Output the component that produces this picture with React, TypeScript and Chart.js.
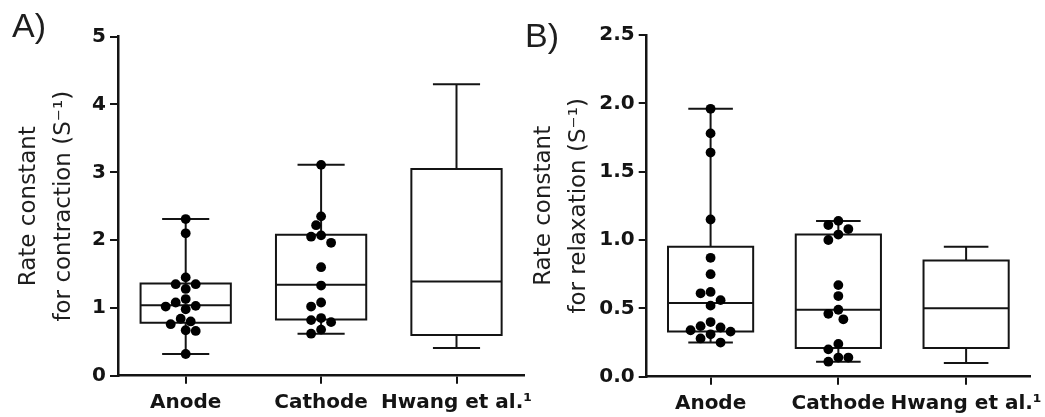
import React, { useEffect, useRef } from 'react';
import { Chart, registerables } from 'chart.js';

Chart.register(...registerables);

const categories = ['Anode', 'Cathode', 'Hwang et al.¹'];

// Panel A – rate constant for contraction
const contractionMin = [0.32, 0.62, 0.41];
const contractionQ1 = [0.78, 0.83, 0.6];
const contractionMedian = [1.04, 1.34, 1.39];
const contractionQ3 = [1.36, 2.08, 3.05];
const contractionMax = [2.31, 3.11, 4.3];
const contractionAnode = [2.31, 2.1, 1.45, 1.35, 1.35, 1.28, 1.13, 1.08, 1.03, 1.02, 0.98, 0.84, 0.8, 0.76, 0.67, 0.66, 0.32];
const contractionCathode = [3.11, 2.35, 2.22, 2.07, 2.05, 1.96, 1.6, 1.33, 1.08, 1.02, 0.85, 0.82, 0.79, 0.68, 0.62];
const contractionTicks = [0, 1, 2, 3, 4, 5];

// Panel B – rate constant for relaxation
const relaxationMin = [0.25, 0.11, 0.1];
const relaxationQ1 = [0.33, 0.21, 0.21];
const relaxationMedian = [0.54, 0.49, 0.5];
const relaxationQ3 = [0.95, 1.04, 0.85];
const relaxationMax = [1.96, 1.14, 0.95];
const relaxationAnode = [1.96, 1.78, 1.64, 1.15, 0.87, 0.75, 0.62, 0.61, 0.56, 0.52, 0.4, 0.37, 0.36, 0.34, 0.33, 0.31, 0.28, 0.25];
const relaxationCathode = [1.14, 1.11, 1.08, 1.04, 1.0, 0.67, 0.59, 0.49, 0.46, 0.42, 0.24, 0.2, 0.14, 0.14, 0.11];
const relaxationTicks = [0, 0.5, 1, 1.5, 2, 2.5];

const H = 417;
const INK = '#141414';
const BOX_HALF = 1 / 3; // half box width in category units

type Pt = { x: number; y: number | null };

function boxLines(mins: number[], q1: number[], med: number[], q3: number[], maxs: number[]): Pt[] {
  const pts: Pt[] = [];
  mins.forEach((_, i) => {
    const l = i - BOX_HALF, r = i + BOX_HALF;
    const cl = i - BOX_HALF / 2, cr = i + BOX_HALF / 2;
    pts.push({ x: l, y: q1[i] }, { x: r, y: q1[i] }, { x: r, y: q3[i] }, { x: l, y: q3[i] }, { x: l, y: q1[i] }, { x: l, y: null });
    pts.push({ x: l, y: med[i] }, { x: r, y: med[i] }, { x: r, y: null });
    pts.push({ x: i, y: q3[i] }, { x: i, y: maxs[i] }, { x: i, y: null });
    pts.push({ x: cl, y: maxs[i] }, { x: cr, y: maxs[i] }, { x: cr, y: null });
    pts.push({ x: i, y: q1[i] }, { x: i, y: mins[i] }, { x: i, y: null });
    pts.push({ x: cl, y: mins[i] }, { x: cr, y: mins[i] }, { x: cr, y: null });
  });
  return pts;
}

// Beeswarm placement computed from the chart's own scales
function swarm(chart: any, groups: number[][], diam: number) {
  const xs = chart.scales.x, ys = chart.scales.y;
  const pxPerX = xs.getPixelForValue(1) - xs.getPixelForValue(0);
  const out: { x: number; y: number }[] = [];
  groups.forEach((values, ci) => {
    const placed: { x: number; y: number }[] = [];
    const sorted = values.slice().sort((a, b) => b - a);
    sorted.forEach((v) => {
      const py = ys.getPixelForValue(v);
      let off = 0;
      for (let step = 0; step < 60; step++) {
        const mag = Math.ceil(step / 2) * diam / 2;
        const cand = step === 0 ? 0 : (step % 2 === 1 ? -mag : mag);
        if (placed.every((q) => Math.hypot(q.x - cand, q.y - py) >= diam)) { off = cand; break; }
      }
      placed.push({ x: off, y: py });
      out.push({ x: ci + off / pxPerX, y: v });
    });
  });
  return out;
}

type PanelCfg = {
  left: number; width: number;
  areaLeft: number; areaRight: number; areaTop: number; areaBottom: number;
  title: string[]; titlePad: number;
  mins: number[]; q1: number[]; med: number[]; q3: number[]; maxs: number[];
  groups: number[][];
  ticks: number[]; decimals: number;
};

function BoxPanel({ cfg }: { cfg: PanelCfg }) {
  const ref = useRef<HTMLCanvasElement>(null);
  useEffect(() => {
    const canvas = ref.current!;
    const tickFont = { family: 'DejaVu Sans', weight: 'bold' as const, size: 20 };
    const initial = cfg.groups.flatMap((vals, ci) => vals.map((v) => ({ x: ci, y: v })));
    const chart = new Chart(canvas, {
      type: 'scatter',
      data: {
        datasets: [
          {
            type: 'scatter',
            data: initial,
            pointRadius: 4.9,
            pointBackgroundColor: '#000',
            pointBorderWidth: 0,
            order: 0,
          } as any,
          {
            type: 'line',
            data: boxLines(cfg.mins, cfg.q1, cfg.med, cfg.q3, cfg.maxs),
            showLine: true,
            borderColor: INK,
            borderWidth: 2,
            pointRadius: 0,
            spanGaps: false,
            fill: false,
            tension: 0,
            borderJoinStyle: 'miter',
            borderCapStyle: 'square',
            order: 1,
          } as any,
        ],
      },
      options: {
        animation: false,
        responsive: false,
        devicePixelRatio: 1,
        events: [],
        layout: { padding: { top: cfg.areaTop, right: cfg.width - cfg.areaRight, bottom: 0, left: 0 } },
        plugins: { legend: { display: false }, tooltip: { enabled: false } },
        scales: {
          x: {
            type: 'linear',
            min: -0.5,
            max: categories.length - 0.5,
            afterBuildTicks: (s: any) => { s.ticks = categories.map((_, i) => ({ value: i })); },
            afterFit: (s: any) => { s.height = H - cfg.areaBottom; s.paddingLeft = 0; s.paddingRight = 0; },
            ticks: {
              callback: (v: any) => categories[Math.round(Number(v))],
              autoSkip: false, maxRotation: 0, minRotation: 0, padding: 7,
              font: tickFont, color: INK,
            },
            grid: { drawOnChartArea: false, drawTicks: true, tickLength: 8, lineWidth: 2, color: INK },
            border: { display: true, width: 2.5, color: INK },
          },
          y: {
            type: 'linear',
            min: cfg.ticks[0],
            max: cfg.ticks[cfg.ticks.length - 1],
            afterBuildTicks: (s: any) => { s.ticks = cfg.ticks.map((v) => ({ value: v })); },
            afterFit: (s: any) => { s.width = cfg.areaLeft; s.paddingTop = 0; s.paddingBottom = 0; },
            ticks: {
              callback: (v: any) => Number(v).toFixed(cfg.decimals),
              padding: 4, font: tickFont, color: INK,
            },
            grid: { drawOnChartArea: false, drawTicks: true, tickLength: 8, lineWidth: 2, color: INK },
            border: { display: true, width: 2.5, color: INK },
            title: {
              display: true,
              text: cfg.title,
              font: { family: 'DejaVu Sans', size: 23, lineHeight: 1.5 },
              padding: { top: cfg.titlePad, bottom: 0 },
              color: '#1e1e1e',
            },
          },
        },
      } as any,
    });
    chart.data.datasets[0].data = swarm(chart, cfg.groups, 10) as any;
    chart.update();
    return () => chart.destroy();
  }, []);
  return (
    <canvas
      ref={ref}
      width={cfg.width}
      height={H}
      style={{ position: 'absolute', left: cfg.left, top: 0, width: cfg.width, height: H }}
    />
  );
}

const panelA: PanelCfg = {
  left: 0, width: 545,
  areaLeft: 118, areaRight: 524.2, areaTop: 36.7, areaBottom: 375.7,
  title: ['Rate constant', 'for contraction (S⁻¹)'], titlePad: 12,
  mins: contractionMin, q1: contractionQ1, med: contractionMedian, q3: contractionQ3, maxs: contractionMax,
  groups: [contractionAnode, contractionCathode, []],
  ticks: contractionTicks, decimals: 0,
};

const panelB: PanelCfg = {
  left: 520, width: 525,
  areaLeft: 126.7, areaRight: 510, areaTop: 35, areaBottom: 376.7,
  title: ['Rate constant', 'for relaxation (S⁻¹)'], titlePad: 7,
  mins: relaxationMin, q1: relaxationQ1, med: relaxationMedian, q3: relaxationQ3, maxs: relaxationMax,
  groups: [relaxationAnode, relaxationCathode, []],
  ticks: relaxationTicks, decimals: 1,
};

const labelStyle: React.CSSProperties = {
  position: 'absolute',
  fontFamily: '"Liberation Sans", Arial, sans-serif',
  fontSize: 34,
  lineHeight: '34px',
  color: '#1e1e1e',
  whiteSpace: 'nowrap',
};

export default function App() {
  return (
    <div style={{ position: 'fixed', left: 0, top: 0, width: 1045, height: H, background: '#fff', overflow: 'hidden' }}>
      <BoxPanel cfg={panelA} />
      <BoxPanel cfg={panelB} />
      <div style={{ ...labelStyle, left: 12, top: 8 }}>A)</div>
      <div style={{ ...labelStyle, left: 525, top: 18 }}>B)</div>
    </div>
  );
}
